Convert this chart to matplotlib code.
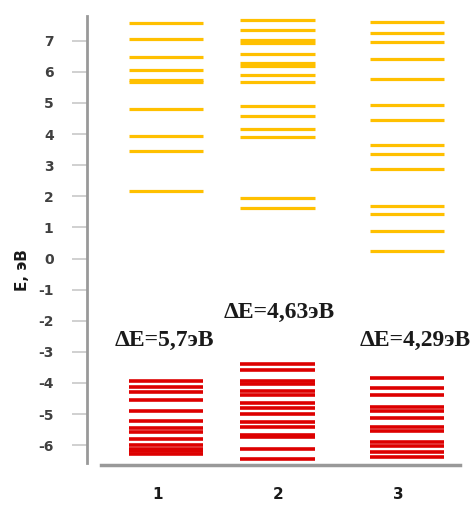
import matplotlib
matplotlib.use("Agg")
import matplotlib.pyplot as plt

# ---- data ----
categories = ["1", "2", "3"]
lumo_levels = [
    [7.56, 7.07, 6.48, 6.05, 5.75, 5.66, 4.81, 3.95, 3.47, 2.17],
    [7.66, 7.34, 7.02, 6.94, 6.59, 6.28, 6.20, 5.89, 5.68, 4.91, 4.59, 4.16, 3.90, 1.95, 1.63],
    [7.61, 7.24, 6.97, 6.42, 5.78, 4.93, 4.44, 3.64, 3.36, 2.88, 1.70, 1.43, 0.89, 0.25],
]
homo_levels = [
    [-3.94, -4.14, -4.30, -4.55, -4.89, -5.23, -5.45, -5.58, -5.80, -6.00, -6.11, -6.20, -6.28],
    [-3.40, -3.59, -3.95, -4.05, -4.26, -4.40, -4.66, -4.82, -5.01, -5.25, -5.42, -5.66, -5.74, -6.12, -6.44],
    [-3.83, -4.15, -4.40, -4.77, -4.90, -5.14, -5.41, -5.55, -5.91, -6.03, -6.23, -6.37],
]
gap_labels = ["ΔE=5,7эВ", "ΔE=4,63эВ", "ΔE=4,29эВ"]
y_ticks = list(range(-6, 8))
y_label = "E, эВ"

# ---- layout ----
col_x = [1.0, 1.925, 3.0]   # horizontal placement of the three columns

W, H, DPI = 473, 508, 100
fig = plt.figure(figsize=(W / DPI, H / DPI), dpi=DPI)
ax = fig.add_axes([87 / W, 1 - 465 / H, (460 - 87) / W, (465 - 16) / H])

ylo = (258.5 - 465) / 31.1
yhi = (258.5 - 16) / 31.1
ax.set_ylim(ylo, yhi)
xlo = (87 - 166) / 120.5 + 1
xhi = (460 - 166) / 120.5 + 1
ax.set_xlim(xlo, xhi)

half = 0.31
yellow = "#FFC000"
red = "#DD0000"
for c, lu, ho in zip(col_x, lumo_levels, homo_levels):
    ax.hlines(lu, c - half, c + half, colors=yellow, linewidth=2.3)
    ax.hlines(ho, c - half, c + half, colors=red, linewidth=2.6)

gap_pos = [(0.99, -2.65), (1.94, -1.72), (3.07, -2.65)]
for lab, (gx, gy) in zip(gap_labels, gap_pos):
    ax.text(gx, gy, lab, ha="center", va="center", fontsize=17,
            fontweight="bold", family="Liberation Serif", color="#1a1a1a")

for s in ["top", "right"]:
    ax.spines[s].set_visible(False)
ax.spines["left"].set_color("#999999")
ax.spines["left"].set_linewidth(2.0)
ax.spines["left"].set_bounds((258.5 - 463) / 31.1, yhi)
ax.spines["bottom"].set_color("#999999")
ax.spines["bottom"].set_linewidth(2.5)
ax.spines["bottom"].set_bounds((101 - 166) / 120.5 + 1, xhi)

ax.set_yticks(y_ticks)
ax.set_yticklabels([str(t) for t in y_ticks])
ax.tick_params(axis="y", direction="out", length=11, width=1.2, color="#c8c8c8",
               pad=13, labelsize=10, labelcolor="#404040")
for t in ax.get_yticklabels():
    t.set_fontweight("bold")

ax.set_xticks([0.93, 1.93, 2.93])
ax.set_xticklabels(categories)
ax.tick_params(axis="x", length=0, pad=16, labelsize=11, labelcolor="#1a1a1a")
for t in ax.get_xticklabels():
    t.set_fontweight("bold")

fig.text(22 / W, 1 - 270 / H, y_label, rotation=90, ha="center", va="center",
         fontsize=11, fontweight="bold", color="#1a1a1a")

fig.savefig("out.png", dpi=DPI)
